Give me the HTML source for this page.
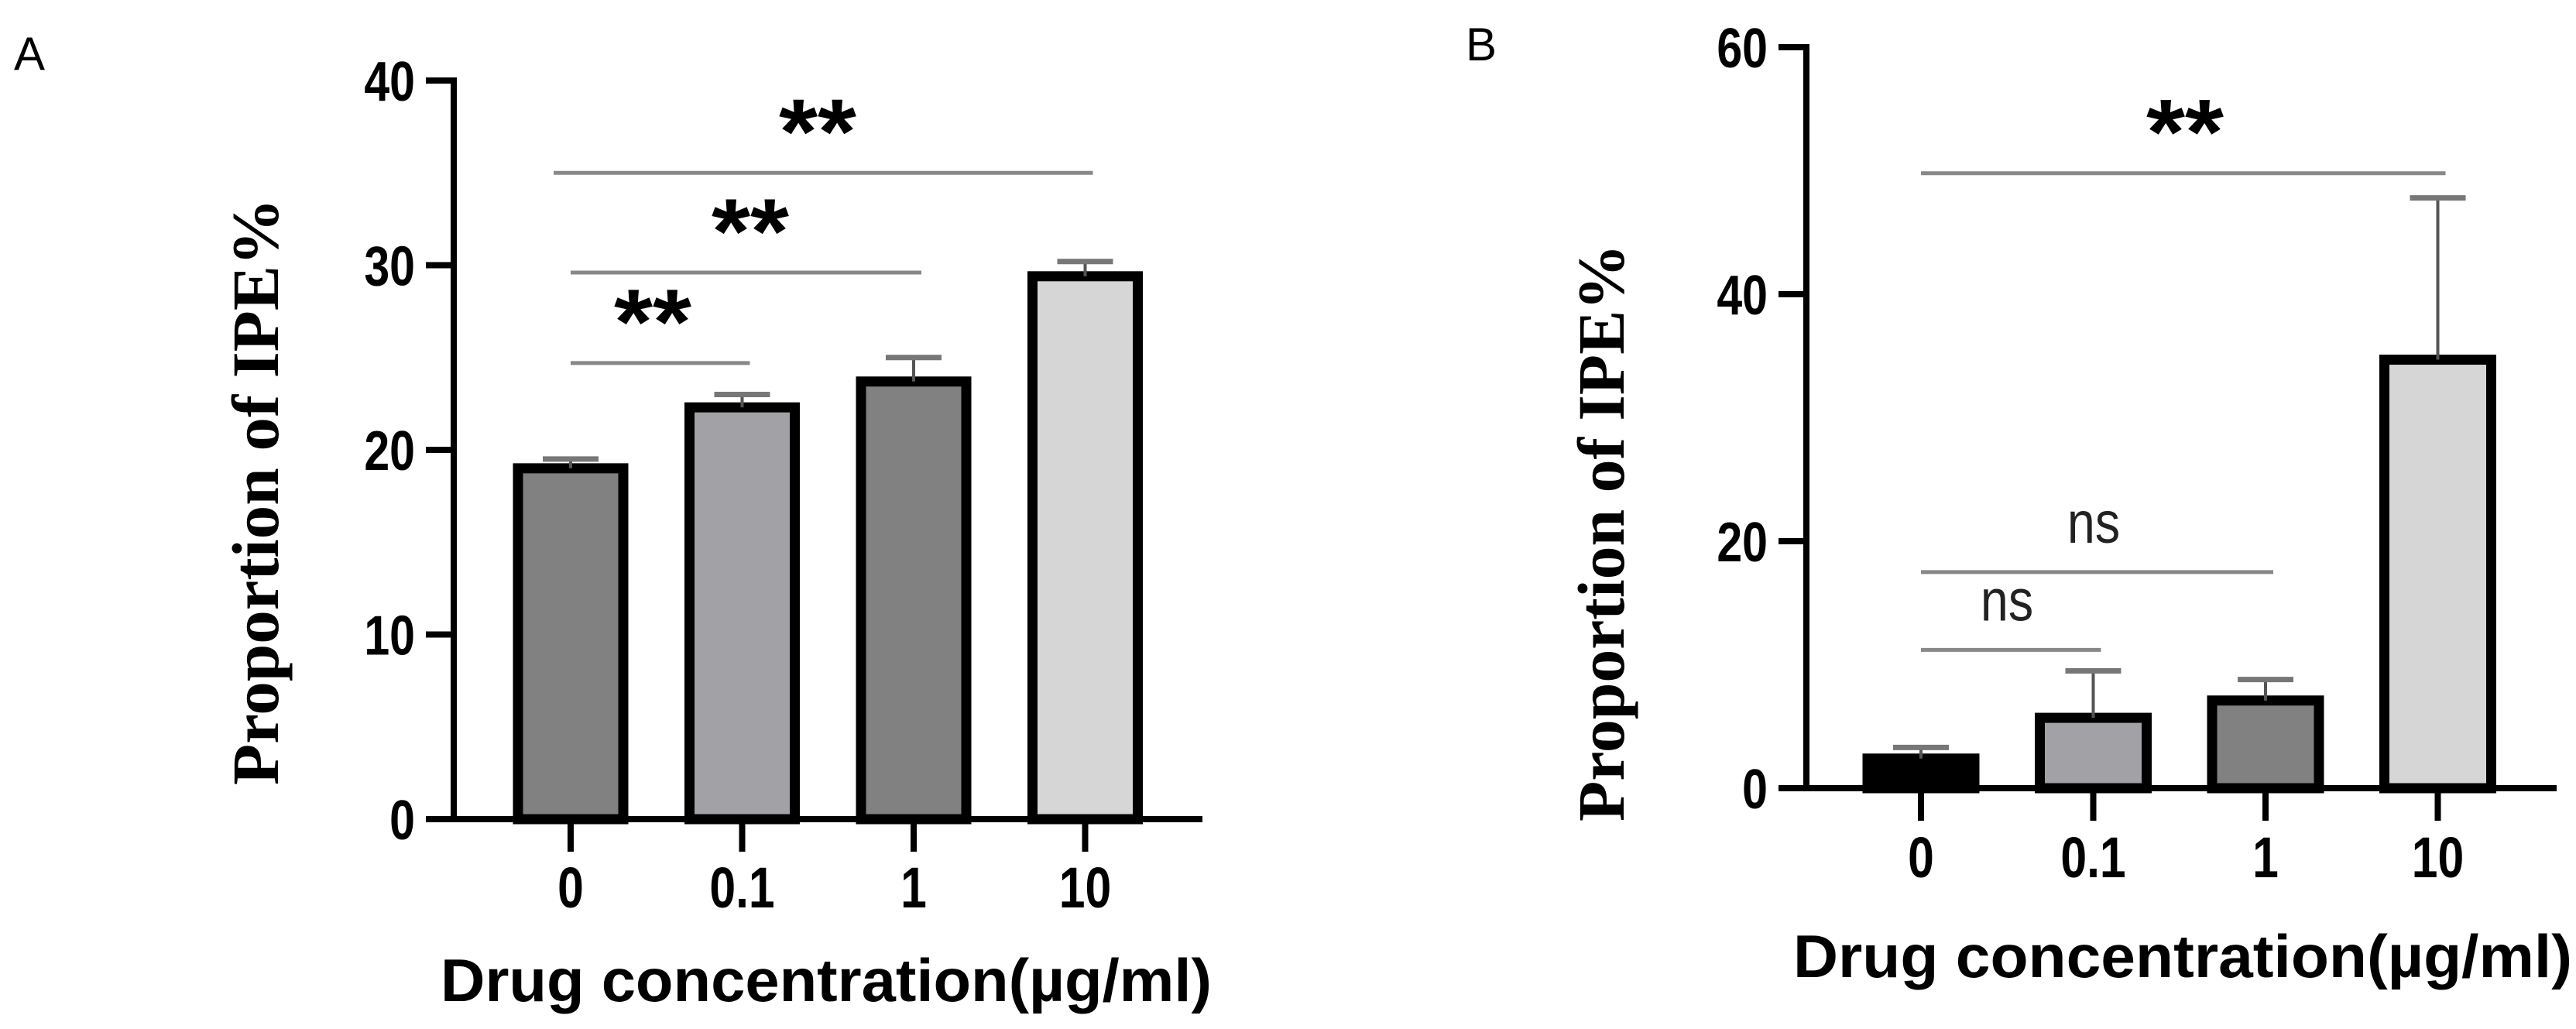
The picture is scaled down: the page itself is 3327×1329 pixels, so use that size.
<!DOCTYPE html>
<html><head><meta charset="utf-8"><style>
html,body{margin:0;padding:0;background:#fff;}
svg{display:block;}
</style></head><body>
<svg id="chart" width="3327" height="1329" viewBox="0 0 3327 1329" xmlns="http://www.w3.org/2000/svg">
<rect width="3327" height="1329" fill="#fff"/>
</svg>
<script>
const categories = ["0","0.1","1","10"];
const valuesA = [19.0, 22.3, 23.7, 29.4];
const errorsA = [19.5, 23.0, 25.0, 30.2];
const ticksA = [0,10,20,30,40];
const fillsA = ["#818181","#a2a2a6","#818181","#d6d6d6"];
const sigA = [[0,1,"**"],[0,2,"**"],[0,3,"**"]];
const sigYA = [24.7, 29.6, 35.0];
const valuesB = [2.4, 5.7, 7.1, 34.7];
const errorsB = [3.3, 9.5, 8.8, 47.8];
const ticksB = [0,20,40,60];
const fillsB = ["#000000","#a2a2a6","#818181","#d6d6d6"];
const sigB = [[0,1,"ns"],[0,2,"ns"],[0,3,"**"]];
const sigYB = [11.2, 17.5, 49.8];

const svg = document.getElementById('chart');
const NS = 'http://www.w3.org/2000/svg';
function mk(tag, attrs, parent){
  const e = document.createElementNS(NS, tag);
  for (const k in attrs) e.setAttribute(k, attrs[k]);
  (parent||svg).appendChild(e);
  return e;
}

function panel(cfg){
  const g = mk('g', {});
  
  
  const y = v => cfg.y0 - (v - 0) / cfg.ymax * (cfg.y0 - cfg.ytop);
  const x = i => cfg.x0 + i * cfg.step;
  // panel letter
  const L = mk('text', {x: cfg.letterX, y: cfg.letterY, 'font-family':'Liberation Sans, sans-serif', 'font-size':60, fill:'#000'}, g);
  L.textContent = cfg.letter;
  
  
  // bars
  cfg.values.forEach((v,i)=>{
    const top = y(v);
    const r = mk('rect', {x: x(i)-cfg.bw/2, y: top, width: cfg.bw, height: cfg.y0 - top, fill: cfg.fills[i], stroke:'#000', 'stroke-width':13}, g);
    
    
    const et = y(cfg.errors[i]);
    const e1 = mk('line', {x1:x(i), x2:x(i), y1: top, y2: et, stroke:'#555', 'stroke-width':4}, g);
    
    
    const e2 = mk('line', {x1:x(i)-36, x2:x(i)+36, y1: et, y2: et, stroke:'#777', 'stroke-width':7}, g);
    
    
  });
  // axes
  const ya = mk('line', {x1:cfg.ax, x2:cfg.ax, y1:cfg.ytop-4, y2:cfg.y0+4, stroke:'#000', 'stroke-width':8}, g);
  
  
  const xa = mk('line', {x1:cfg.ax-4, x2:cfg.xend, y1:cfg.y0, y2:cfg.y0, stroke:'#000', 'stroke-width':8}, g);
  
  
  cfg.ticks.forEach(t=>{
    const ty = y(t);
    const tl = mk('line', {x1:cfg.ax-36, x2:cfg.ax, y1:ty, y2:ty, stroke:'#000', 'stroke-width':8}, g);
    
    
    const tx = mk('text', {x:cfg.ax-50, y:ty+26, 'text-anchor':'end', 'font-family':'Liberation Sans, sans-serif', 'font-weight':'bold', 'font-size':72, fill:'#000', transform:`translate(${cfg.ax-50} 0) scale(0.82 1) translate(${-(cfg.ax-50)} 0)`}, g);
    tx.textContent = t;
    
    
  });
  categories.forEach((c,i)=>{
    const tl = mk('line', {x1:x(i), x2:x(i), y1:cfg.y0, y2:cfg.y0+42, stroke:'#000', 'stroke-width':8}, g);
    
    
    const tx = mk('text', {x:0, y:cfg.tickLabelY, 'text-anchor':'middle', 'font-family':'Liberation Sans, sans-serif', 'font-weight':'bold', 'font-size':74, fill:'#000', transform:`translate(${x(i)} 0) scale(0.82 1)`}, g);
    tx.textContent = c;
    
    
  });
  // significance
  cfg.sig.forEach((s,k)=>{
    const ly = y(cfg.sigY[k]);
    const x1 = x(s[0]) - (k==cfg.sig.length-1 && cfg.name==='panel-a' ? 22 : 0);
    const x2 = x(s[1]) + 10;
    const ln = mk('line', {x1:x1, x2:x2, y1:ly, y2:ly, stroke:'#888', 'stroke-width':5}, g);
    
    
    const cx = cfg.sigTextX[k];
    let t;
    if (s[2] === '**') {
      t = mk('text', {x:cx, y:ly - 72 + 60, 'text-anchor':'middle', 'font-family':'Liberation Sans, sans-serif', 'font-weight':'bold', 'font-size':120, fill:'#000', textLength:100, lengthAdjust:'spacingAndGlyphs'}, g);
    } else {
      t = mk('text', {x:0, y:ly - 38, 'text-anchor':'middle', 'font-family':'Liberation Sans, sans-serif', 'font-size':76, fill:'#222', transform:`translate(${cx} 0) scale(0.85 1)`}, g);
    }
    t.textContent = s[2];
    
    
  });
  // titles
  const xt = mk('text', {x:cfg.xtitleX, y:cfg.xtitleY, 'text-anchor':'middle', 'font-family':'Liberation Sans, sans-serif', 'font-weight':'bold', 'font-size':78, fill:'#000', textLength:cfg.xtitleW, lengthAdjust:'spacingAndGlyphs'}, g);
  xt.textContent = 'Drug concentration(\u00b5g/ml)';
  
  
  const yt = mk('text', {x:0, y:0, 'text-anchor':'middle', 'font-family':'Liberation Serif, serif', 'font-weight':'bold', 'font-size':86, fill:'#000', textLength:cfg.ytitleL, lengthAdjust:'spacingAndGlyphs', transform:`translate(${cfg.ytitleX} ${cfg.ytitleY}) rotate(-90)`}, g);
  yt.textContent = 'Proportion of IPE%';
  
  
}

panel({name:'panel-a', letter:'A', letterX:18, letterY:90, values:valuesA, errors:errorsA, fills:fillsA, ticks:ticksA,
  ymax:40, y0:1058, ytop:104, ax:586, xend:1553, x0:737, step:221.5, bw:136, tickLabelY:1172,
  sig:sigA, sigY:sigYA, sigTextX:[843,969,1056],
  xtitleX:1067, xtitleY:1293, xtitleW:996, ytitleX:359, ytitleY:635, ytitleL:758});
panel({name:'panel-b', letter:'B', letterX:1893, letterY:78, values:valuesB, errors:errorsB, fills:fillsB, ticks:ticksB,
  ymax:60, y0:1018, ytop:61, ax:2333, xend:3302, x0:2481, step:222.5, bw:138, tickLabelY:1133,
  sig:sigB, sigY:sigYB, sigTextX:[2592,2704,2822],
  xtitleX:2819, xtitleY:1262, xtitleW:1006, ytitleX:2097, ytitleY:688, ytitleL:746});
</script>
</body></html>
